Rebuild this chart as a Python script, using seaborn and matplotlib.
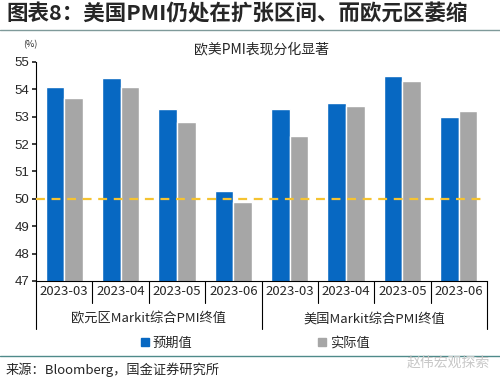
import pandas as pd
import seaborn as sns
import numpy as np
from matplotlib import pyplot as plt
from matplotlib.patches import Patch

sns.set_theme(style="white")
plt.rcParams['font.family'] = ['Noto Sans CJK SC', 'DejaVu Sans']

months = ['2023-03', '2023-04', '2023-05', '2023-06']
regions = ['欧元区Markit综合PMI终值', '美国Markit综合PMI终值']
expected = [54.1, 54.4, 53.3, 50.3, 53.3, 53.5, 54.5, 53.0]
actual = [53.7, 54.1, 52.8, 49.9, 52.3, 53.4, 54.3, 53.2]
series = ['预期值', '实际值']
colors = ['#0768c2', '#a6a6a6']

cats = [r + '|' + m for r in regions for m in months]
df = pd.DataFrame({
    'cat': cats * 2,
    'val': expected + actual,
    'series': [series[0]] * 8 + [series[1]] * 8,
})

fig = plt.figure(figsize=(5, 3.82), dpi=100)
ax = fig.add_axes([0.072, 0.2644, 0.902, 0.5733])
sns.barplot(data=df, x='cat', y='val', hue='series', palette=colors,
            width=0.66, ax=ax, legend=False, saturation=1)
ax.set_ylim(47, 55)
ax.set_xlim(-0.5, 7.5)
ax.set_yticks(range(47, 56))
ax.tick_params(axis='y', labelsize=9.5, length=3, direction='out', left=True, pad=2)
for t in ax.get_yticklabels():
    t.set_family(['Liberation Sans'])
ax.set_xticks([])
ax.set_xlabel('')
ax.set_ylabel('')
for s in ['top', 'right']:
    ax.spines[s].set_visible(False)
ax.spines['left'].set_color('black')
ax.spines['bottom'].set_color('black')
ax.spines['left'].set_linewidth(0.8)
ax.spines['bottom'].set_linewidth(0.8)

ax.axhline(50, color='#f5c331', ls=(0, (4, 3)), lw=1.6, zorder=5)

# category axis: months row and region row
trans = ax.get_xaxis_transform()
for i in range(9):
    x = i - 0.5
    low = -0.22 if i in (0, 4, 8) else -0.10
    ax.plot([x, x], [0, low], transform=trans, color='black', lw=0.8, clip_on=False)
for i, c in enumerate(cats):
    ax.text(i, -0.05, c.split('|')[1], transform=trans, ha='center', va='center', fontsize=9.5)
for j, r in enumerate(regions):
    ax.text(j * 4 + 1.5, -0.175, r, transform=trans, ha='center', va='center', fontsize=9.5)

ax.set_title('欧美PMI表现分化显著', fontsize=10, pad=6)
fig.text(0.06, 0.883, '(%)', fontsize=6.5, ha='center', va='center')

handles = [Patch(color=c) for c in colors]
fig.legend(handles, series, loc='center', bbox_to_anchor=(0.51, 0.102), ncol=2,
           frameon=False, handlelength=0.6, handleheight=0.6, handletextpad=0.3,
           columnspacing=9.5, fontsize=9.5)

fig.text(0.012, 0.963, '图表8：美国PMI仍处在扩张区间、而欧元区萎缩', fontsize=15.5,
         fontweight='bold', style='italic', va='center')
fig.add_artist(plt.Line2D([0, 1], [0.922, 0.922], color='#7f9a9a', lw=1))
fig.add_artist(plt.Line2D([0, 1], [0.068, 0.068], color='#4f8a8a', lw=1))
fig.text(0.012, 0.032, '来源：Bloomberg，国金证券研究所', fontsize=9.5, va='center')
fig.text(0.896, 0.052, '赵伟宏观探索', fontsize=10, color='#c8c8c8', ha='center', va='center')

fig.savefig('out.png', dpi=100)
